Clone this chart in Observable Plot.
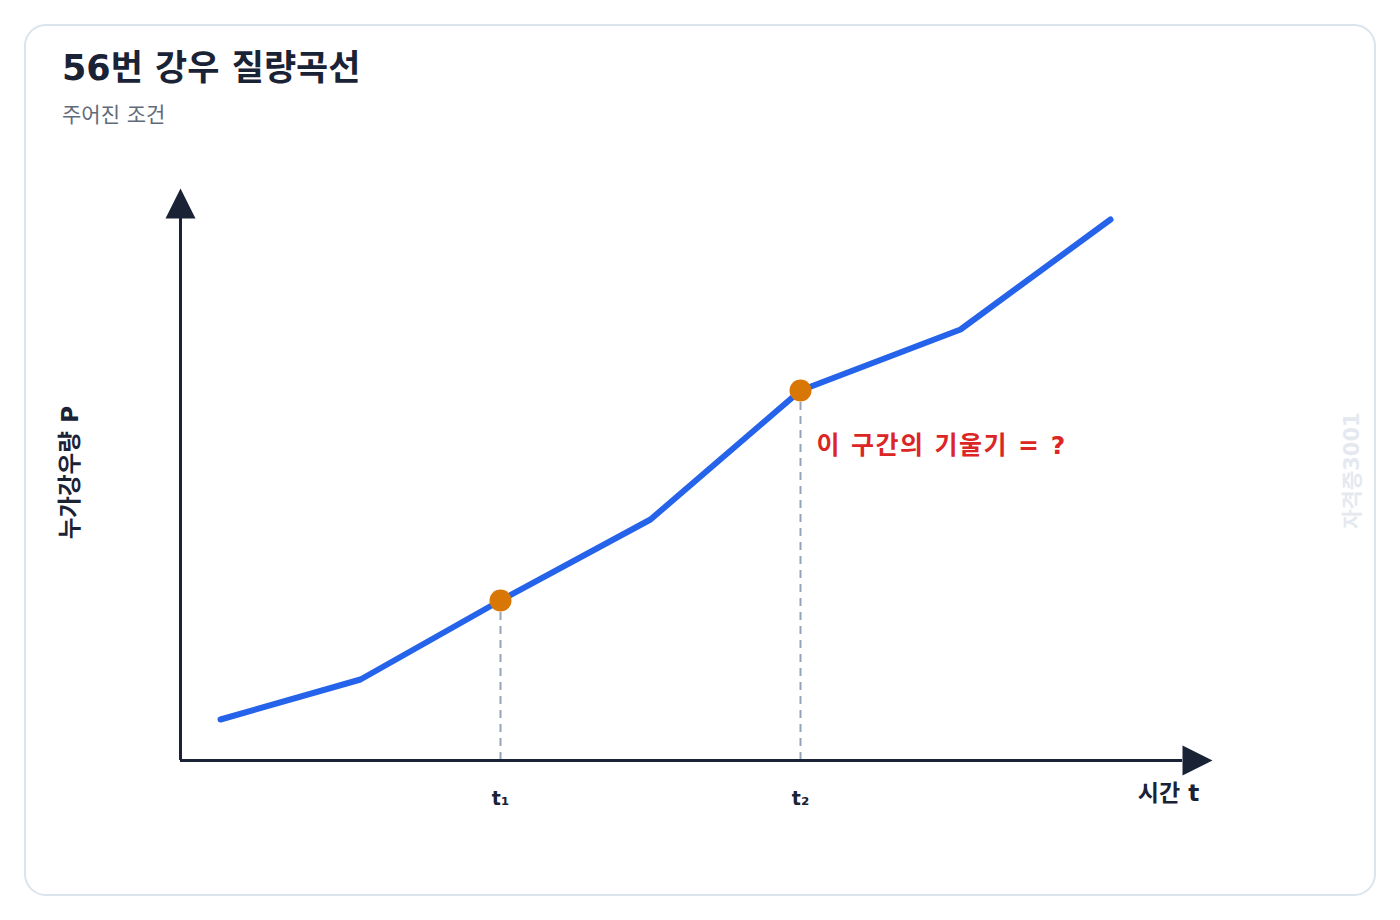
<!DOCTYPE html>
<html>
<head>
<meta charset="utf-8">
<script src="https://cdn.jsdelivr.net/npm/d3@7"></script>
<script src="https://cdn.jsdelivr.net/npm/@observablehq/plot@0.6"></script>
<style>
  html, body { margin: 0; padding: 0; background: #ffffff; }
  body { width: 1400px; height: 920px; position: relative; overflow: hidden; font-family: "DejaVu Sans", "Noto Sans CJK KR", sans-serif; }
  #card { position: absolute; left: 24px; top: 24px; width: 1348px; height: 868px; border: 2px solid #dbe3ec; border-radius: 22px; background: #fff; }
  #title { position: absolute; left: 62px; top: 44px; font-size: 35px; font-weight: 700; color: #1a2236; margin: 0; line-height: 48px; }
  #subtitle { position: absolute; left: 62px; top: 101px; font-size: 21px; font-weight: 400; color: #5f6b7a; margin: 0; line-height: 28px; }
  #chart { position: absolute; left: 0; top: 0; }
  .annot text { letter-spacing: 1.45px; }
</style>
</head>
<body>
<div id="card"></div>
<div id="title">56번 강우 질량곡선</div>
<div id="subtitle">주어진 조건</div>
<div id="chart"></div>
<script>
// Data (time in arbitrary units, cumulative rainfall in arbitrary units)
const times = [4, 18, 32, 47, 62, 78, 93];
const rain = [4.1, 8.1, 16, 24.1, 37, 43.1, 54.1];
const markedTimes = [32, 62];
const markedRain = [16, 37];
const tickLabels = ["t\u2081", "t\u2082"];
const xAxisLabel = "시간 t";
const yAxisLabel = "누가강우량 P";
const annotation = "이 구간의 기울기 = ?";
const watermark = "자격증3001";

const xMax = 103.2, yMax = 57.2;
const xArrowBase = 100.2, yArrowBase = 54.2;

const curve = times.map((t, i) => ({t, p: rain[i]}));
const marked = markedTimes.map((t, i) => ({t, p: markedRain[i], label: tickLabels[i]}));

const arrowHead = {
  draw(ctx) {
    ctx.moveTo(0, 0);
    ctx.lineTo(-15, 30);
    ctx.lineTo(15, 30);
    ctx.closePath();
  }
};

const dark = "#1a2236";

const chart = Plot.plot({
  width: 1400,
  height: 920,
  marginLeft: 180,
  marginRight: 188,
  marginTop: 188,
  marginBottom: 160,
  x: {domain: [0, xMax], axis: null},
  y: {domain: [0, yMax], axis: null},
  style: {fontFamily: "'DejaVu Sans', 'Noto Sans CJK KR', sans-serif", background: "transparent", overflow: "visible"},
  marks: [
    // dashed guides
    Plot.ruleX(marked, {x: "t", y1: 0, y2: "p", stroke: "#94a3b8", strokeWidth: 2, strokeDasharray: "8,6"}),
    // axes
    Plot.ruleY([0], {x1: 0, x2: xArrowBase, stroke: dark, strokeWidth: 3}),
    Plot.ruleX([0], {y1: 0, y2: yArrowBase, stroke: dark, strokeWidth: 3}),
    Plot.dot([{x: 0, y: yMax}], {x: "x", y: "y", symbol: arrowHead, fill: dark, stroke: null}),
    Plot.dot([{x: xMax, y: 0}], {x: "x", y: "y", symbol: arrowHead, fill: dark, stroke: null, rotate: 90}),
    // curve
    Plot.line(curve, {x: "t", y: "p", stroke: "#2563eb", strokeWidth: 6, strokeLinejoin: "miter"}),
    Plot.dot(marked, {x: "t", y: "p", r: 11, fill: "#d97706", stroke: null}),
    // tick labels
    Plot.text(marked, {x: "t", y: 0, text: "label", dy: 38, fontSize: 19, fontWeight: 700, fill: dark}),
    // axis labels
    Plot.text([xAxisLabel], {x: xMax - 4.4, y: 0, text: d => d, dy: 33, fontSize: 23, fontWeight: 700, fill: dark}),
    Plot.text([yAxisLabel], {frameAnchor: "left", dx: -110, dy: -2, rotate: -90, textAnchor: "middle", text: d => d, fontSize: 23.5, fontWeight: 700, fill: dark}),
    // annotation
    Plot.text([marked[1]], {x: "t", y: "p", text: () => annotation, dx: 16, dy: 55, textAnchor: "start", fontSize: 25, fontWeight: 700, fill: "#dc2626", className: "annot"}),
    // watermark
    Plot.text([watermark], {frameAnchor: "right", dx: 140, dy: -4, rotate: -90, textAnchor: "middle", text: d => d, fontSize: 21, fontWeight: 700, fill: "#e5e9ef"})
  ]
});
document.getElementById("chart").appendChild(chart);
</script>
</body>
</html>
